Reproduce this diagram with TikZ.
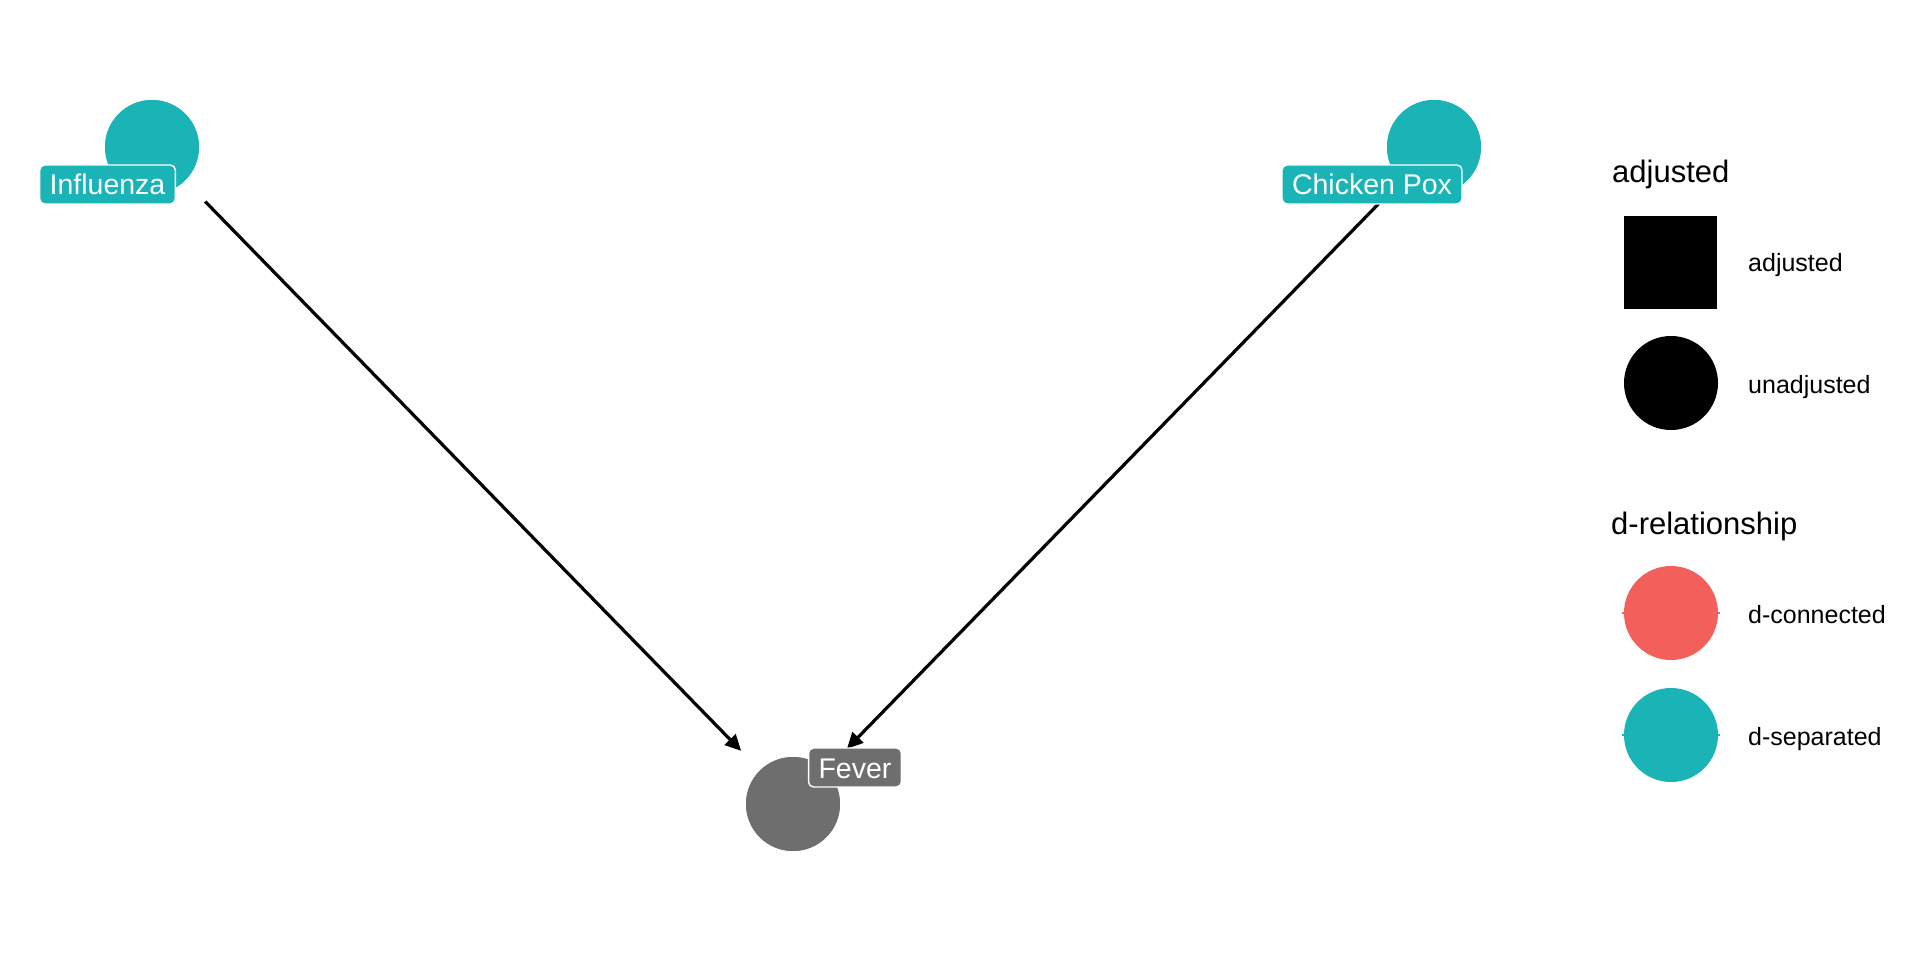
\documentclass[tikz,border=0pt]{standalone}
\usepackage{fontspec}
\setmainfont{Liberation Sans}
\usetikzlibrary{arrows.meta}
\definecolor{dsep}{RGB}{26,179,182}
\definecolor{dcon}{RGB}{243,96,92}
\definecolor{fevgray}{RGB}{110,110,110}
\tikzset{
  dagnode/.style={circle, minimum size=94pt, inner sep=0pt, draw=none},
  daglabel/.style={rounded corners=5pt, draw=white, line width=1.4pt, text=white,
    inner xsep=10pt, inner ysep=9pt, text height=21pt, text depth=0pt,
    font=\fontsize{28.5}{34}\selectfont},
  dagedge/.style={line width=3.2pt, -{Triangle[length=16pt,width=15pt]}},
  legtitle/.style={anchor=base west, inner sep=0pt, font=\fontsize{31}{36}\selectfont},
  leglabel/.style={anchor=base west, inner sep=0pt, font=\fontsize{25}{30}\selectfont},
  legkey/.style={circle, minimum size=94pt, inner sep=0pt, draw=none}
}
\begin{document}
\begin{tikzpicture}[x=1pt,y=-1pt]
\useasboundingbox[fill=white] (0,0) rectangle (1920,960);
% nodes
\node[dagnode, fill=dsep] (inf) at (152,147) {};
\node[dagnode, fill=dsep] (cp) at (1434,147) {};
\node[dagnode, fill=fevgray] (fev) at (793,804) {};
% edges
\draw[dagedge, shorten <=29pt, shorten >=27pt] (inf) -- (fev);
\draw[dagedge, shorten <=32pt, shorten >=30pt] (cp) -- (fev);
% redraw circles over edges
\fill[dsep] (inf.center) circle (47pt);
\fill[dsep] (cp.center) circle (47pt);
\fill[fevgray] (fev.center) circle (47pt);
% labels
\node[daglabel, fill=dsep] (infl) at (107.5,184.5) {Influenza};
\node[daglabel, fill=dsep] (cpl) at (1372,184.5) {Chicken Pox};
\node[daglabel, fill=fevgray] (fevl) at (855,767.5) {Fever};
% legend: adjusted
\node[legtitle] (lt1) at (1612,183) {adjusted};
\node[fill=black, minimum size=93pt, inner sep=0pt] (ksq) at (1670.5,262.5) {};
\node[leglabel] (l1) at (1748,272) {adjusted};
\node[legkey, fill=black] (kc) at (1671,383) {};
\node[leglabel] (l2) at (1748,393) {unadjusted};
% legend: d-relationship
\node[legtitle] (lt2) at (1611,534) {d-relationship};
\node[legkey, fill=dcon] (kr) at (1671,613) {};
\draw[dcon, line width=2pt] (1622,613) -- (1720,613);
\node[leglabel] (l3) at (1748,623) {d-connected};
\node[legkey, fill=dsep] (kt) at (1671,735) {};
\draw[dsep, line width=2pt] (1622,735) -- (1720,735);
\node[leglabel] (l4) at (1748,745) {d-separated};
\end{tikzpicture}
\end{document}
